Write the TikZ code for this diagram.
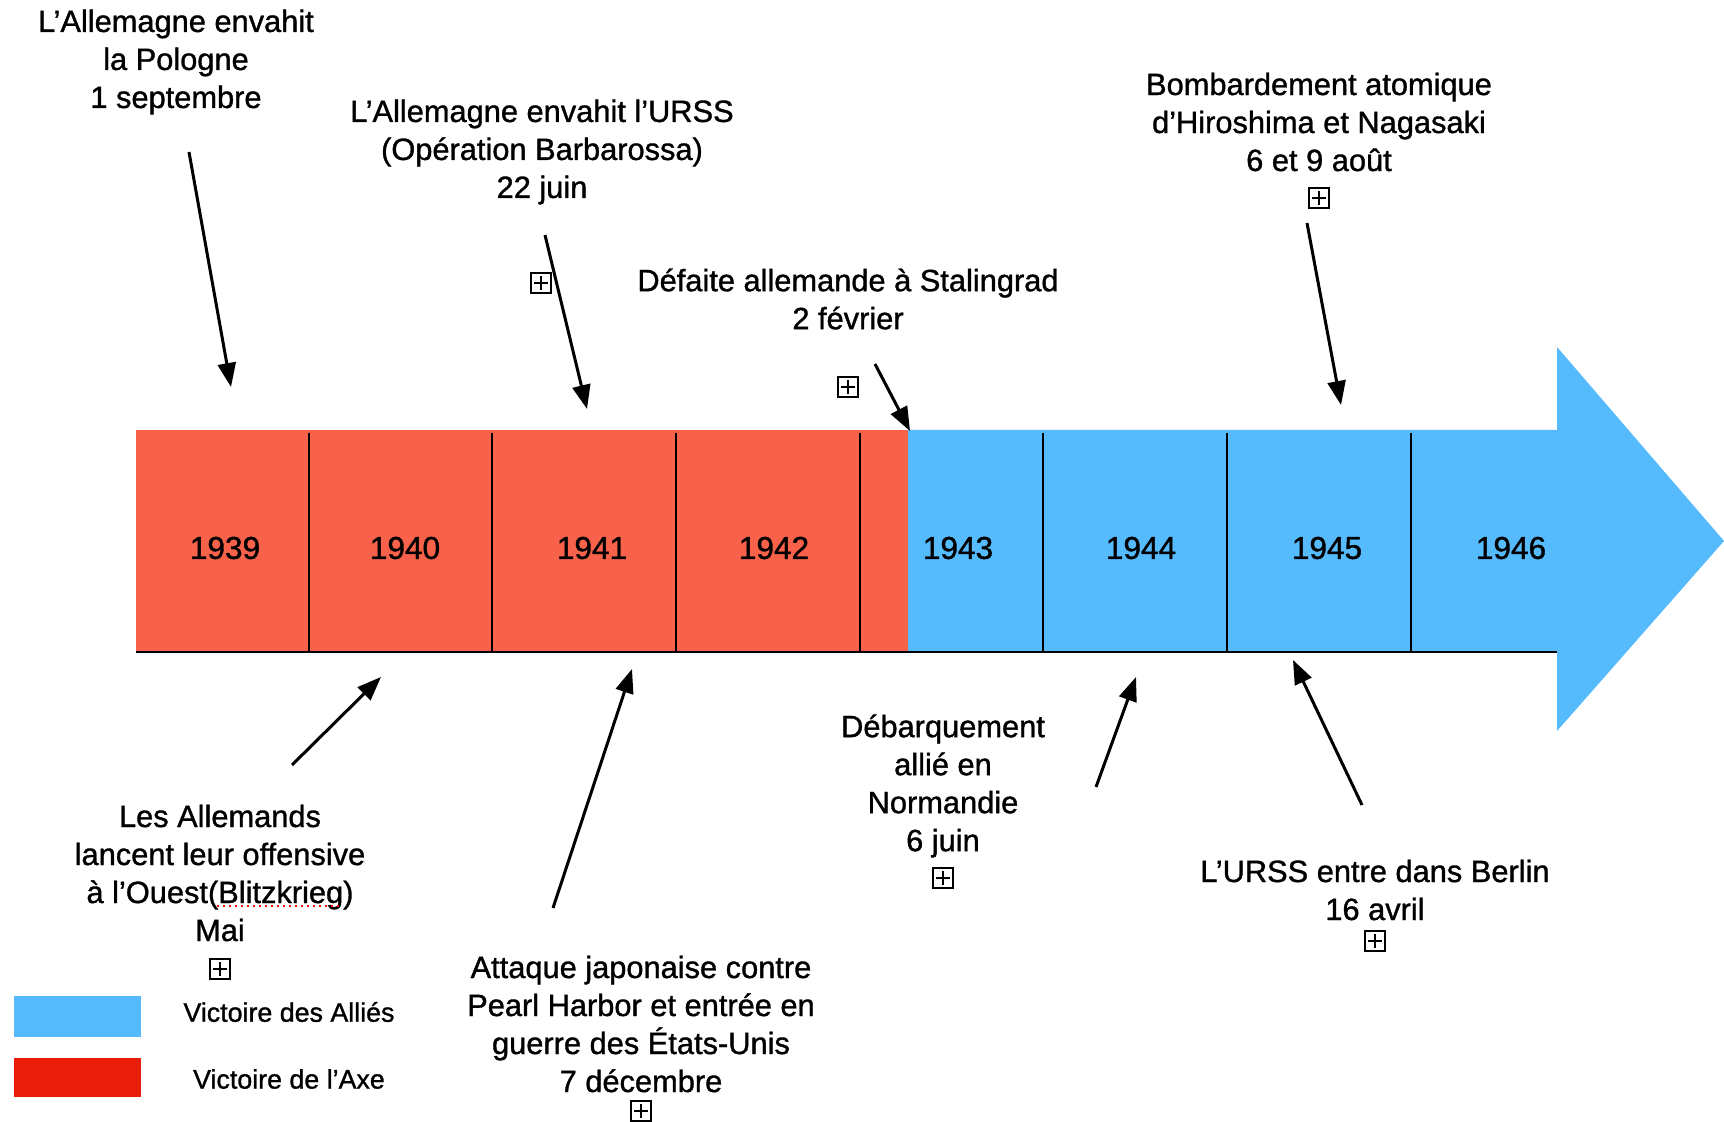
\documentclass[tikz,border=0pt]{standalone}
\usepackage{fontspec}
\setmainfont{Liberation Sans}
\newfontfamily\heavyfont[FakeBold=1.1]{Liberation Sans}
\usetikzlibrary{arrows.meta}
\definecolor{axred}{RGB}{248,97,74}
\definecolor{alblue}{RGB}{85,187,253}
\definecolor{legred}{RGB}{232,30,10}
\tikzset{
  lbl/.style={align=center, inner sep=0pt, font=\heavyfont\fontsize{15.4}{19}\selectfont},
  yr/.style={inner sep=0pt, font=\heavyfont\fontsize{15.8}{18}\selectfont},
  legtxt/.style={inner sep=0pt, font=\heavyfont\fontsize{13.4}{16}\selectfont},
  evarrow/.style={line width=1.5pt, -{Triangle[length=12pt,width=9pt]}},
  divider/.style={line width=0.7pt},
  plusbox/.style={draw, line width=0.6pt, minimum size=10pt, inner sep=0pt,
    path picture={
      \draw[line width=0.6pt] ([yshift=-1.6pt]path picture bounding box.north) -- ([yshift=1.6pt]path picture bounding box.south);
      \draw[line width=0.6pt] ([xshift=1.6pt]path picture bounding box.west) -- ([xshift=-1.6pt]path picture bounding box.east);
    }}
}
\begin{document}
\begin{tikzpicture}[x=0.5pt,y=-0.5pt]
\useasboundingbox (0,0) rectangle (1724,1122);
% bar
\fill[axred] (136,430) rectangle (908,652);
\fill[alblue] (908,430) -- (1557,430) -- (1557,347) -- (1724,541) -- (1557,731) -- (1557,652) -- (908,652) -- cycle;
\draw[line width=1pt] (136,652) -- (1557,652);
\foreach \x in {309,492,676,860,1043,1227,1411}
  \draw[divider] (\x,433) -- (\x,652);
% years
\node[yr] (y1939) at (225,548) {1939};
\node[yr] (y1940) at (405,548) {1940};
\node[yr] (y1941) at (592,548) {1941};
\node[yr] (y1942) at (774,548) {1942};
\node[yr] (y1943) at (958,548) {1943};
\node[yr] (y1944) at (1141,548) {1944};
\node[yr] (y1945) at (1327,548) {1945};
\node[yr] (y1946) at (1511,548) {1946};
% labels
\node[lbl] (pologne) at (176,62) {L’Allemagne envahit\\la Pologne\\1 septembre};
\node[lbl] (urss) at (542,152) {L’Allemagne envahit l’URSS\\(Opération Barbarossa)\\22 juin};
\node[lbl] (stal) at (848,299) {Défaite allemande à Stalingrad\\2 février};
\node[lbl] (hiro) at (1319,122) {Bombardement atomique\\d’Hiroshima et Nagasaki\\6 et 9 août};
\node[lbl] (blitz) at (220,873) {Les Allemands\\lancent leur offensive\\à l’Ouest(Blitzkrieg)\\Mai};
\node[lbl] (pearl) at (641,1024) {Attaque japonaise contre\\Pearl Harbor et entrée en\\guerre des États-Unis\\7 décembre};
\node[lbl] (norm) at (943,786) {Débarquement\\allié en\\Normandie\\6 juin};
\node[lbl] (berlin) at (1375,890) {L’URSS entre dans Berlin\\16 avril};
\draw[red, dotted, line width=1pt] (217,906) -- (342,906);
% plus boxes
\node[plusbox] (pb1) at (541,283) {};
\node[plusbox] (pb2) at (848,387) {};
\node[plusbox] (pb3) at (1319,198) {};
\node[plusbox] (pb4) at (220,969) {};
\node[plusbox] (pb5) at (641,1111) {};
\node[plusbox] (pb6) at (943,878) {};
\node[plusbox] (pb7) at (1375,941) {};
% arrow endpoints
\coordinate (a1s) at (189,152); \coordinate (a1e) at (231,387);
\coordinate (a2s) at (545,235); \coordinate (a2e) at (587,409);
\coordinate (a3s) at (875,364); \coordinate (a3e) at (910,431);
\coordinate (a4s) at (1307,223); \coordinate (a4e) at (1341,405);
\coordinate (a5s) at (292,765); \coordinate (a5e) at (381,677);
\coordinate (a6s) at (553,908); \coordinate (a6e) at (632,669);
\coordinate (a7s) at (1096,787); \coordinate (a7e) at (1136,677);
\coordinate (a8s) at (1362,805); \coordinate (a8e) at (1293,660);
\foreach \i in {1,...,8} \draw[evarrow] (a\i s) -- (a\i e);
% legend
\fill[alblue] (14,996) rectangle (141,1037);
\fill[legred] (14,1058) rectangle (141,1097);
\node[legtxt] (legal) at (289,1012) {Victoire des Alliés};
\node[legtxt] (legax) at (289,1079) {Victoire de l’Axe};
\end{tikzpicture}
\end{document}
